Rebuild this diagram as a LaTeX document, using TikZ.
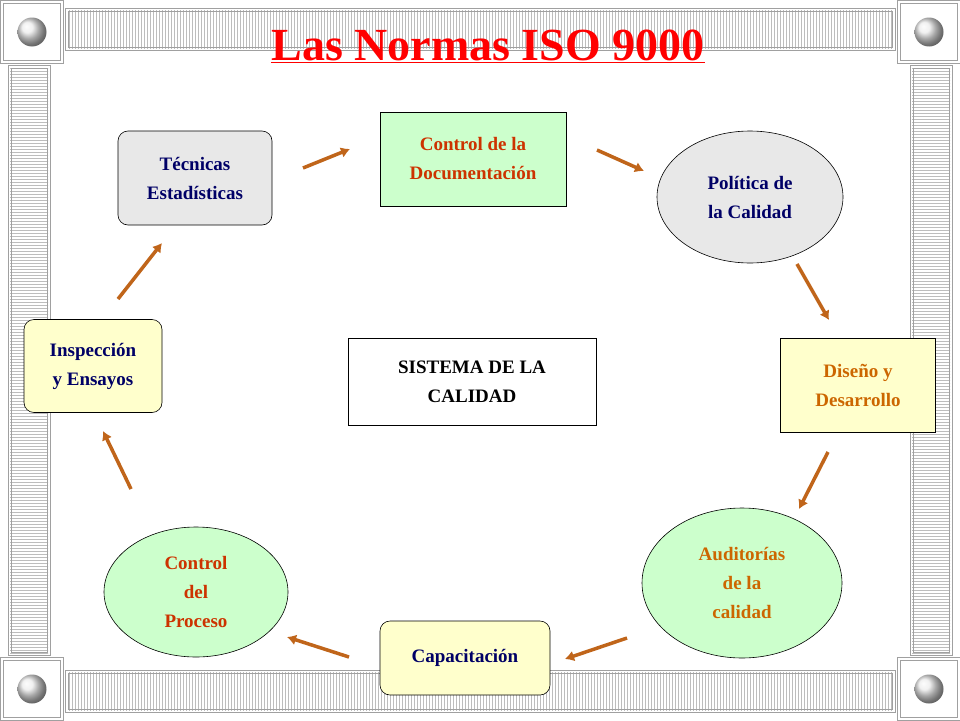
\documentclass[tikz,border=0pt]{standalone}
\usepackage{fontspec}
\setmainfont{Liberation Serif}
\usetikzlibrary{shapes.geometric,patterns,arrows.meta}
\definecolor{navy}{HTML}{000066}
\definecolor{orng}{HTML}{CC6600}
\definecolor{redo}{HTML}{CC3300}
\definecolor{arr}{HTML}{C0651A}
\definecolor{lgreen}{HTML}{CCFFCC}
\definecolor{lyellow}{HTML}{FFFFCC}
\definecolor{lgray}{HTML}{E8E8E8}
\definecolor{fr}{HTML}{A0A0A0}
\tikzset{
 lbl/.style={font=\bfseries\fontsize{19}{29}\selectfont,align=center,draw=black,line width=0.6pt,inner sep=0pt},
 arrw/.style={draw=arr,line width=3.5pt,-{Latex[length=9pt,width=11pt]}},
 bar/.style={draw=fr,line width=1pt,fill=white},
}
\begin{document}
\begin{tikzpicture}[x=1pt,y=-1pt]
\useasboundingbox (0,0) rectangle (960,720);
\fill[white] (0,0) rectangle (960,720);
\foreach \a/\b/\c/\d/\p in {65/8/895/50/vertical lines,65/670/895/712/vertical lines,8/65/50/655/horizontal lines,910/65/952/655/horizontal lines}{
 \draw[bar] (\a,\b) rectangle (\c,\d);
 \fill[pattern=\p,pattern color=fr!70] (\a+2,\b+2) rectangle (\c-2,\d-2);
 \draw[fr,line width=0.6pt] (\a+3,\b+3) rectangle (\c-3,\d-3);
}
\foreach \x/\y in {0/0,897/0,0/657,897/657}{
 \draw[fr,line width=1pt,fill=white] (\x,\y) rectangle ++(63,63);
 \draw[fr,line width=0.8pt] (\x+3,\y+3) rectangle ++(57,57);
 \shade[ball color=white!85!gray] (\x+32,\y+32) circle (14.5);
}
\node[text=red,font=\bfseries\fontsize{46}{50}\selectfont] (title) at (488,46) {\underline{Las Normas ISO 9000}};
\node[lbl,rounded corners=10pt,fill=lgray,text=navy,minimum width=154pt,minimum height=94pt] (tec) at (195,178) {Técnicas\\Estadísticas};
\node[lbl,fill=lgreen,text=redo,minimum width=186pt,minimum height=94pt] (doc) at (473,159) {Control de la\\Documentación};
\node[lbl,ellipse,fill=lgray,text=navy,minimum width=186pt,minimum height=132pt] (pol) at (750,197) {Política de\\la Calidad};
\node[lbl,fill=lyellow,text=orng,minimum width=155pt,minimum height=94pt] (dis) at (858,385) {Diseño y\\Desarrollo};
\node[lbl,ellipse,fill=lgreen,text=orng,minimum width=200pt,minimum height=150pt] (aud) at (742,583) {Auditorías\\de la\\calidad};
\node[lbl,rounded corners=10pt,fill=lyellow,text=navy,minimum width=170pt,minimum height=74pt] (cap) at (465,658) {Capacitación};
\node[lbl,ellipse,fill=lgreen,text=redo,minimum width=184pt,minimum height=130pt] (pro) at (196,592) {Control\\del\\Proceso};
\node[lbl,rounded corners=10pt,fill=lyellow,text=navy,minimum width=138pt,minimum height=93pt] (ins) at (93,366) {Inspección\\y Ensayos};
\node[lbl,fill=white,text=black,minimum width=248pt,minimum height=87pt] (sis) at (472,382) {SISTEMA DE LA\\CALIDAD};
\foreach \i/\a/\b/\c/\d in {1/303/168/350/149,2/597/150/644/171,3/797/264/829/320,4/828/452/799/509,5/627/638/565/659,6/349/657/287/637,7/131/489/103/431,8/118/299/162/243}{
 \coordinate (s\i) at (\a,\b); \coordinate (e\i) at (\c,\d);
 \draw[arrw] (s\i) -- (e\i);
}
\end{tikzpicture}
\end{document}
